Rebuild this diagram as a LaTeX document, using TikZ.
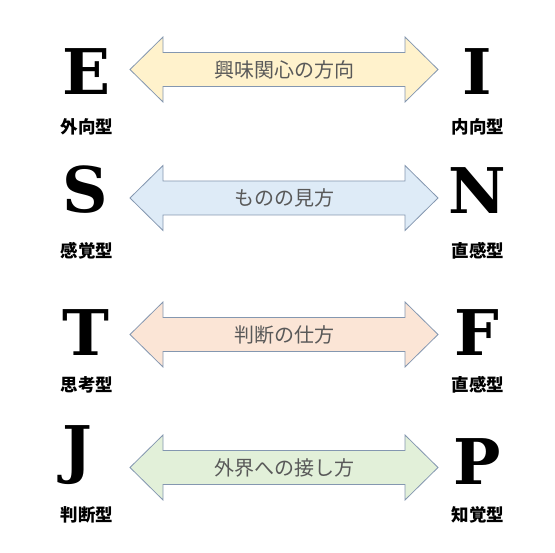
\documentclass[tikz,border=0pt]{standalone}
\usepackage{fontspec}
\setmainfont{DejaVu Serif}
\newfontfamily\jpfont{Noto Sans CJK JP}
\usetikzlibrary{positioning}

\definecolor{bordergray}{HTML}{8497B0}
\definecolor{labelgray}{HTML}{595959}
\definecolor{fillyellow}{HTML}{FFF2CC}
\definecolor{fillblue}{HTML}{DEEBF7}
\definecolor{fillpeach}{HTML}{FBE5D6}
\definecolor{fillgreen}{HTML}{E2F0D9}

\tikzset{
  letter/.style={font=\bfseries\fontsize{63}{63}\selectfont,inner sep=0pt},
  typename/.style={font=\jpfont\bfseries\fontsize{17.5}{17.5}\selectfont,inner sep=0pt},
  axistext/.style={font=\jpfont\fontsize{20}{20}\selectfont,text=labelgray,inner sep=0pt},
  axisbody/.style={draw=bordergray,line width=0.8pt,line join=miter},
}

\begin{document}
\begin{tikzpicture}[x=1pt,y=-1pt]
  \useasboundingbox (0,0) rectangle (555,553);
  % one row per pair of opposite types
  \foreach \row/\ym/\yb/\yl/\l/\r/\ln/\rn/\txt/\col in {%
      1/69.5/95/127/E/I/外向型/内向型/興味関心の方向/fillyellow,
      2/198/214/251/S/N/感覚型/直感型/ものの見方/fillblue,
      3/334.5/356/385/T/F/思考型/直感型/判断の仕方/fillpeach,
      4/467.5/485/515/J/P/判断型/知覚型/外界への接し方/fillgreen}
  {
    \draw[axisbody,fill=\col] (130,\ym) -- (163,\ym-32.5) -- (163,\ym-17)
      -- (405,\ym-17) -- (405,\ym-32.5) -- (438,\ym) -- (405,\ym+32.5)
      -- (405,\ym+17) -- (163,\ym+17) -- (163,\ym+32.5) -- cycle;
    \node[axistext] (axis\row) at (284,\ym) {\txt};
    \node[letter,anchor=south west] (left\row) at (62,\yb) {\l};
    \node[letter,anchor=base] (right\row) at (477,\yb) {\r};
    \node[typename] (leftname\row) at (87,\yl) {\ln};
    \node[typename] (rightname\row) at (478,\yl) {\rn};
  }
\end{tikzpicture}
\end{document}
